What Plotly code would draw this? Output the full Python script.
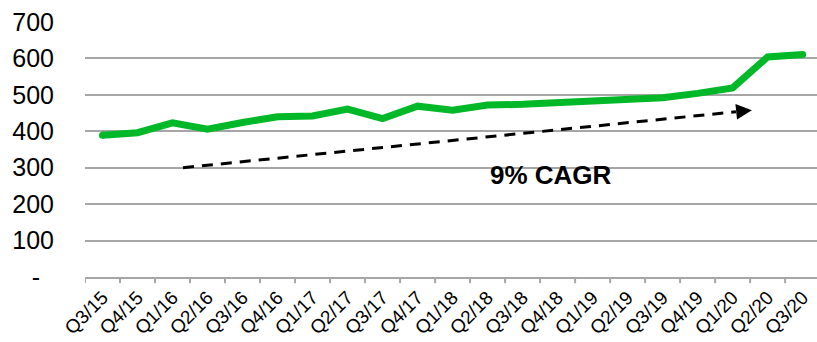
import plotly.graph_objects as go

# Quarterly series
quarters = ["Q3/15", "Q4/15", "Q1/16", "Q2/16", "Q3/16", "Q4/16", "Q1/17", "Q2/17",
            "Q3/17", "Q4/17", "Q1/18", "Q2/18", "Q3/18", "Q4/18", "Q1/19", "Q2/19",
            "Q3/19", "Q4/19", "Q1/20", "Q2/20", "Q3/20"]
values = [389, 396, 423, 406, 424, 440, 442, 461, 435, 469, 458, 472, 474, 479,
          485, 488, 492, 504, 519, 604, 611]

# Trend arrow (category index, value): start point and arrow tip
trend_x = [2.3, 18.55]
trend_y = [300, 458]
trend_label = "9% CAGR"
label_pos = (12.8, 279)

y_tickvals = [0, 100, 200, 300, 400, 500, 600, 700]
y_ticktext = ["-\u00a0\u00a0", "100", "200", "300", "400", "500", "600", "700"]

GREEN = "#00B828"
GRID = "#A6A6A6"
FONT = "Liberation Sans, Arial, sans-serif"

fig = go.Figure()

fig.add_trace(go.Scatter(
    x=list(range(len(quarters))), y=values, mode="lines",
    line=dict(color=GREEN, width=7), hoverinfo="skip", showlegend=False,
))
# rounded ends of the main line
fig.add_trace(go.Scatter(
    x=[0, len(quarters) - 1], y=[values[0], values[-1]], mode="markers",
    marker=dict(color=GREEN, size=7, line=dict(width=0)),
    hoverinfo="skip", showlegend=False,
))

# dashed trend line, stopping where the arrow head begins
head_frac = 0.972
base_x = trend_x[0] + (trend_x[1] - trend_x[0]) * head_frac
base_y = trend_y[0] + (trend_y[1] - trend_y[0]) * head_frac
fig.add_trace(go.Scatter(
    x=[trend_x[0], base_x], y=[trend_y[0], base_y], mode="lines",
    line=dict(color="black", width=3, dash="11px,8px"),
    hoverinfo="skip", showlegend=False,
))
# filled arrow head
fig.add_annotation(
    x=trend_x[1], y=trend_y[1], ax=base_x, ay=base_y,
    xref="x", yref="y", axref="x", ayref="y",
    showarrow=True, arrowhead=2, arrowsize=1.05, arrowwidth=3,
    arrowcolor="black", text="",
)

fig.add_annotation(
    x=label_pos[0], y=label_pos[1], text="<b>" + trend_label + "</b>",
    showarrow=False, font=dict(family=FONT, size=26, color="black"),
    xanchor="center", yanchor="middle",
)

fig.update_layout(
    width=817, height=342,
    margin=dict(l=85, r=0, t=22, b=65),
    paper_bgcolor="white", plot_bgcolor="white",
    font=dict(family=FONT, color="black"),
)

fig.update_xaxes(
    tickmode="array", tickvals=list(range(len(quarters))), ticktext=quarters,
    range=[-0.5, 20.41], tickangle=-45,
    tickfont=dict(family=FONT, size=19, color="black"),
    showgrid=False, showline=True, linecolor=GRID, linewidth=2,
    ticks="", zeroline=False, automargin=False,
)
# boundary tick marks between quarters
for i in range(len(quarters) + 1):
    fig.add_shape(type="line", xref="x", yref="paper",
                  x0=i - 0.5, x1=i - 0.5, y0=0, y1=-0.024,
                  line=dict(color=GRID, width=2))

fig.update_yaxes(
    range=[0, 700], tickvals=y_tickvals, ticktext=y_ticktext,
    tickfont=dict(family=FONT, size=25, color="black"),
    showgrid=True, gridcolor=GRID, gridwidth=1.5,
    zeroline=False, showline=False, ticks="", ticklabelstandoff=30,
    automargin=False,
)

fig.write_html("out.html")
